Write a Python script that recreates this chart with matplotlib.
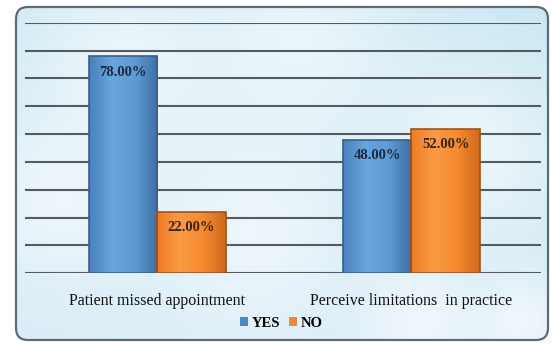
import numpy as np
import matplotlib
matplotlib.use("Agg")
import matplotlib.pyplot as plt
from matplotlib.patches import FancyBboxPatch, Rectangle
from matplotlib.colors import LinearSegmentedColormap

categories = ["Patient missed appointment", "Perceive limitations  in practice"]
yes_vals = [78.0, 48.0]
no_vals = [22.0, 52.0]
series = ["YES", "NO"]

plt.rcParams['font.family'] = ['Liberation Serif', 'DejaVu Serif']

fig = plt.figure(figsize=(5.53, 3.45), dpi=100)
fig.patch.set_facecolor("white")

# rounded panel with a soft blue background
bg = fig.add_axes([0, 0, 1, 1], zorder=-5)
bg.set_xlim(0, 553)
bg.set_ylim(345, 0)
bg.axis("off")
yy, xx = np.mgrid[0:345, 0:553]
base = np.zeros((345, 553, 3))
top_c = np.array([0.80, 0.91, 0.95])
bot_c = np.array([0.86, 0.93, 0.97])
t = (yy / 345.0)[..., None]
base[:] = top_c * (1 - t) + bot_c * t
# bokeh-like light spots
for cx, cy, r in [(120, 60, 70), (300, 40, 80), (470, 150, 60), (420, 320, 40),
                  (520, 320, 30), (60, 200, 60), (250, 230, 70)]:
    d = np.exp(-((xx - cx) ** 2 + (yy - cy) ** 2) / (2 * r ** 2))[..., None]
    base = base * (1 - 0.55 * d) + 0.55 * d * np.array([1, 1, 1])
panel = FancyBboxPatch((16, 7), 532, 333, boxstyle="round,pad=0,rounding_size=12",
                       facecolor="none", edgecolor="#5d6b78", linewidth=1.6, zorder=3)
im = bg.imshow(base, extent=(0, 553, 345, 0), zorder=1)
clip = FancyBboxPatch((16, 7), 532, 333, boxstyle="round,pad=0,rounding_size=12",
                      transform=bg.transData, facecolor="none", edgecolor="none")
bg.add_patch(clip)
im.set_clip_path(clip)
bg.add_patch(panel)

ax = fig.add_axes([0.0452, 0.2078, 0.933, 0.726])
ax.set_facecolor("none")
for s in ax.spines.values():
    s.set_visible(False)

x = np.arange(len(categories))
w = 0.27

blue_cmap = LinearSegmentedColormap.from_list("b", ["#4a80be", "#6aa6dc", "#5e9bd4", "#3f70a8"])
orange_cmap = LinearSegmentedColormap.from_list("o", ["#ee7d25", "#fb9a45", "#f68a30", "#d06a1e"])

grad = np.linspace(0, 1, 64).reshape(1, -1)

def draw_bar(x0, h, cmap, edge):
    img = ax.imshow(grad, cmap=cmap, extent=(x0, x0 + w, 0, h), aspect="auto", zorder=2)
    rect = Rectangle((x0, 0), w, h, facecolor="none", edgecolor=edge, linewidth=1.2, zorder=3)
    ax.add_patch(rect)
    img.set_clip_path(rect)

for i in range(len(categories)):
    draw_bar(x[i] - w, yes_vals[i], blue_cmap, "#3b5f86")
    draw_bar(x[i], no_vals[i], orange_cmap, "#9a5420")
    ax.text(x[i] - w / 2, yes_vals[i] - 5.7, f"{yes_vals[i]:.2f}%", ha="center", va="center",
            fontsize=10.5, fontweight="bold", color="#1d2a45", zorder=4)
    ax.text(x[i] + w / 2, no_vals[i] - 5.7, f"{no_vals[i]:.2f}%", ha="center", va="center",
            fontsize=10.5, fontweight="bold", color="#3a2412", zorder=4)

ax.set_xlim(-0.52, 1.51)
ax.set_ylim(0, 90)
ax.set_yticks(np.arange(0, 91, 10))
ax.yaxis.grid(True, color="#555b62", linewidth=1.5)
ax.set_axisbelow(True)
ax.tick_params(axis="y", left=False, labelleft=False)
ax.set_xticks(x)
ax.set_xticklabels(categories, fontsize=11.5, color="#111111")
ax.tick_params(axis="x", bottom=False, pad=11)

handles = [Rectangle((0, 0), 1, 1, facecolor="#4f86c6", edgecolor="none"),
           Rectangle((0, 0), 1, 1, facecolor="#f0873a", edgecolor="none")]
ax.legend(handles, series, loc="center", bbox_to_anchor=(0.497, -0.2), ncol=2, frameon=False,
          handlelength=0.55, handleheight=0.55, handletextpad=0.25, columnspacing=0.6,
          prop={"size": 10.5, "weight": "bold"})

fig.savefig("out.png", dpi=100)
